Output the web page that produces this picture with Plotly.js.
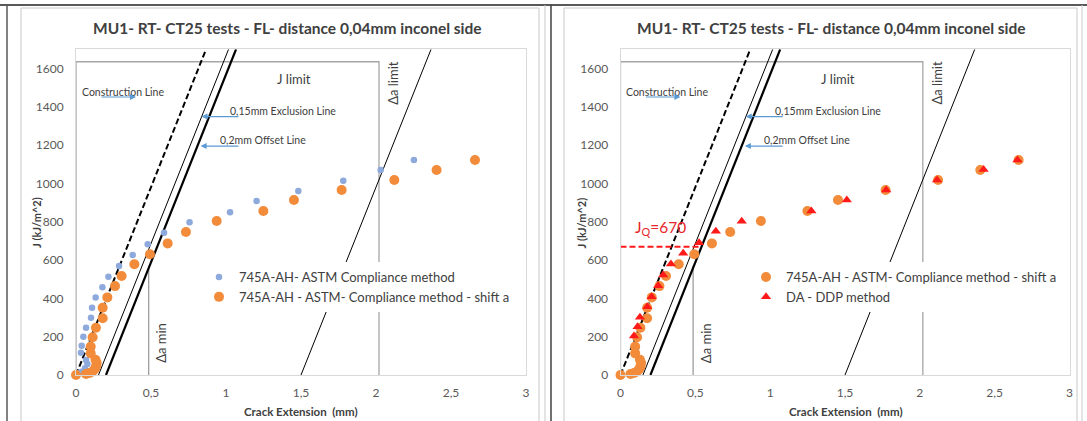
<!DOCTYPE html>
<html>
<head>
<meta charset="utf-8">
<script src="https://cdn.plot.ly/plotly-3.0.1.min.js"></script>
<style>html,body{margin:0;padding:0;background:#fff;}#chart{width:1087px;height:421px;}</style>
</head>
<body>
<div id="chart"></div>
<script>
// ---------- data ----------
const xTickVals = [0, 0.5, 1, 1.5, 2, 2.5, 3];
const xTickText = ['0', '0,5', '1', '1,5', '2', '2,5', '3'];
const yTickVals = [0, 200, 400, 600, 800, 1000, 1200, 1400, 1600];

// 745A-AH- ASTM Compliance method
const astmX = [0, 0.016, 0.038, 0.06, 0.076, 0.067, 0.033, 0.038, 0.049, 0.067, 0.1, 0.107, 0.131, 0.176, 0.216, 0.287, 0.378, 0.478, 0.587, 0.757, 1.027, 1.204, 1.482, 1.782, 2.031, 2.253];
const astmJ = [0, 9, 17, 35, 57, 78, 116, 153, 200, 247, 299, 351, 404, 458, 513, 569, 626, 682, 743, 797, 849, 908, 960, 1014, 1070, 1122];

// 745A-AH - ASTM- Compliance method - shift a
const shiftX = [0, 0.067, 0.09, 0.11, 0.125, 0.133, 0.138, 0.13, 0.098, 0.098, 0.111, 0.133, 0.178, 0.178, 0.209, 0.26, 0.304, 0.389, 0.493, 0.611, 0.733, 0.938, 1.249, 1.453, 1.771, 2.122, 2.404, 2.66];
const shiftJ = [0, 5, 10, 18, 30, 45, 62, 80, 113, 148, 197, 247, 296, 351, 405, 464, 517, 578, 630, 687, 746, 804, 856, 913, 966, 1018, 1070, 1122];

// DA - DDP method
const ddpX = [0.09, 0.114, 0.13, 0.179, 0.208, 0.252, 0.285, 0.337, 0.419, 0.525, 0.637, 0.81, 1.275, 1.512, 1.775, 2.115, 2.426, 2.652];
const ddpJ = [204, 252, 301, 356, 409, 466, 522, 579, 635, 690, 750, 802, 856, 913, 966, 1018, 1073, 1122];

// construction / exclusion / offset / limit lines
const constrX = [0, 0.867];     const constrJ = [0, 1700];
const exclX = [0.15, 1.017];    const exclJ = [0, 1700];
const offX = [0.2, 1.067];      const offJ = [0, 1700];
const daLimX = [1.5, 2.367];    const daLimJ = [0, 1700];
const jLimBoxX = [0, 0, 2.02, 2.02]; const jLimBoxJ = [0, 1635, 1635, 0];
const daMinX = [0.485, 0.485];  const daMinJ = [0, 570];
const jqX = [0, 0.53];          const jqJ = [670, 670];

const titleText = 'MU1- RT- CT25 tests - FL- distance 0,04mm inconel side';
const xTitle = 'Crack Extension  (mm)';
const yTitle = 'J (kJ/m^2)';
const nameAstm = '745A-AH- ASTM Compliance method';
const nameShift = '745A-AH - ASTM- Compliance method - shift a';
const nameDdp = 'DA - DDP method';

// ---------- styling ----------
const W = 1087, H = 421;
const px = v => v / W;
const py = v => 1 - v / H;
const FONT = 'Lato, "Open Sans", sans-serif';
const BLUE = '#8EA9DB', ORANGE = '#F28B3A', RED = '#FF1A1A', ARROW = '#5B9BD5';

function refLines(xa, ya) {
  const base = {xaxis: xa, yaxis: ya, mode: 'lines', showlegend: false, hoverinfo: 'skip', type: 'scatter'};
  return [
    Object.assign({}, base, {x: jLimBoxX, y: jLimBoxJ, line: {color: '#A6A6A6', width: 1.3}}),
    Object.assign({}, base, {x: daMinX, y: daMinJ, line: {color: '#808080', width: 1}}),
    Object.assign({}, base, {x: constrX, y: constrJ, line: {color: '#000', width: 2, dash: '6px,3px'}}),
    Object.assign({}, base, {x: exclX, y: exclJ, line: {color: '#000', width: 1}}),
    Object.assign({}, base, {x: offX, y: offJ, line: {color: '#000', width: 2.2}}),
    Object.assign({}, base, {x: daLimX, y: daLimJ, line: {color: '#000', width: 1}})
  ];
}

const traces = [];
traces.push(...refLines('x', 'y'));
traces.push({type: 'scatter', mode: 'markers', x: astmX, y: astmJ, xaxis: 'x', yaxis: 'y', name: nameAstm, legend: 'legend', cliponaxis: false,
  marker: {color: BLUE, size: 6.5, symbol: 'circle'}});
traces.push({type: 'scatter', mode: 'markers', x: shiftX, y: shiftJ, xaxis: 'x', yaxis: 'y', name: nameShift, legend: 'legend', cliponaxis: false,
  marker: {color: ORANGE, size: 10, symbol: 'circle'}});

traces.push(...refLines('x2', 'y2'));
traces.push({type: 'scatter', mode: 'lines', x: jqX, y: jqJ, xaxis: 'x2', yaxis: 'y2', showlegend: false, hoverinfo: 'skip',
  line: {color: RED, width: 2, dash: '6px,3px'}});
traces.push({type: 'scatter', mode: 'markers', x: shiftX, y: shiftJ, xaxis: 'x2', yaxis: 'y2', name: nameShift, legend: 'legend2', cliponaxis: false,
  marker: {color: ORANGE, size: 10, symbol: 'circle'}});
traces.push({type: 'scatter', mode: 'markers', x: ddpX, y: ddpJ, xaxis: 'x2', yaxis: 'y2', name: nameDdp, legend: 'legend2', cliponaxis: false,
  marker: {color: RED, size: 9, symbol: 'triangle-up'}});

function xAxis(domain, anchor) {
  return {domain: domain, anchor: anchor, range: [0, 3], tickvals: xTickVals, ticktext: xTickText,
    showline: true, mirror: true, linecolor: '#D9D9D9', linewidth: 1, showgrid: false, zeroline: false,
    ticks: 'outside', ticklen: 7, tickcolor: 'rgba(0,0,0,0)', tickfont: {family: FONT, size: 12, color: '#595959'}};
}
function yAxis(domain, anchor) {
  return {domain: domain, anchor: anchor, range: [0, 1700], tickvals: yTickVals,
    showline: true, mirror: true, linecolor: '#D9D9D9', linewidth: 1, showgrid: false, zeroline: false,
    ticks: 'outside', ticklen: 9, tickcolor: 'rgba(0,0,0,0)', tickfont: {family: FONT, size: 12, color: '#595959'}};
}

const yDom = [py(375), py(49.3)];
const layout = {
  width: W, height: H, margin: {l: 0, r: 0, t: 0, b: 0}, paper_bgcolor: '#fff', plot_bgcolor: '#fff',
  xaxis: xAxis([px(76), px(526)], 'y'), yaxis: yAxis(yDom, 'x'),
  xaxis2: xAxis([px(620.5), px(1069.5)], 'y2'), yaxis2: yAxis(yDom, 'x2'),
  showlegend: true,
  legend: {x: px(199), y: py(262), xanchor: 'left', yanchor: 'top', bgcolor: '#fff', borderwidth: 0,
    font: {family: FONT, size: 13, color: '#404040'}, tracegroupgap: 0, itemwidth: 30},
  legend2: {x: px(746), y: py(262), xanchor: 'left', yanchor: 'top', bgcolor: '#fff', borderwidth: 0,
    font: {family: FONT, size: 13, color: '#404040'}, tracegroupgap: 0, itemwidth: 30},
  shapes: [],
  annotations: []
};

// frames (page borders of the screenshot)
const frameLine = (x0, y0, x1, y1, c, w) => ({type: 'line', xref: 'paper', yref: 'paper', x0: px(x0), y0: py(y0), x1: px(x1), y1: py(y1), line: {color: c, width: w}});
layout.shapes.push(frameLine(0, 5, W, 5, '#595959', 2));
layout.shapes.push(frameLine(7, 5, 7, H, '#595959', 1.5));
layout.shapes.push({type: 'rect', xref: 'paper', yref: 'paper', x0: px(21), y0: py(H + 2), x1: px(539), y1: py(8), line: {color: '#C8C8C8', width: 1}});
layout.shapes.push(frameLine(545, 5, 545, H, '#C8C8C8', 1));
layout.shapes.push(frameLine(551, 5, 551, H, '#404040', 1.5));
layout.shapes.push({type: 'rect', xref: 'paper', yref: 'paper', x0: px(564), y0: py(H + 2), x1: px(1077), y1: py(8), line: {color: '#C8C8C8', width: 1}});
layout.shapes.push(frameLine(1082, 5, 1082, H, '#C8C8C8', 1));

function panelAnnotations(xr, yr, xoff) {
  const A = [];
  const txt = (x, y, text, opts) => Object.assign({xref: xr, yref: yr, x: x, y: y, text: text, showarrow: false,
    font: {family: FONT, size: 10.5, color: '#404040'}}, opts || {});
  const arr = (hx, tx, y) => ({xref: xr, yref: yr, axref: xr, ayref: yr, x: hx, y: y, ax: tx, ay: y, text: '',
    showarrow: true, arrowhead: 2, arrowsize: 1, arrowwidth: 1.2, arrowcolor: ARROW});
  A.push(txt(0.025, 1477, 'Construction Line', {xanchor: 'left'}));
  A.push(arr(0.40, 0.16, 1451));
  A.push(txt(1.45, 1547, 'J limit', {font: {family: FONT, size: 13, color: '#404040'}}));
  A.push(txt(1.016, 1378, '0,15mm Exclusion Line', {xanchor: 'left'}));
  A.push(arr(0.837, 1.093, 1349));
  A.push(txt(0.947, 1228, '0,2mm Offset Line', {xanchor: 'left'}));
  A.push(arr(0.831, 1.093, 1195));
  A.push(txt(2.112, 1524, 'Δa limit', {textangle: -90, font: {family: FONT, size: 13, color: '#404040'}}));
  A.push(txt(0.571, 166, 'Δa min', {textangle: -90, font: {family: FONT, size: 13, color: '#404040'}}));
  // titles
  A.push({xref: 'paper', yref: 'paper', x: px(xoff + 287), y: py(28), xanchor: 'center', yanchor: 'middle',
    text: '<b>' + titleText + '</b>', showarrow: false, font: {family: FONT, size: 15.5, color: '#404040'}});
  A.push({xref: 'paper', yref: 'paper', x: px(xoff + 301), y: py(411), xanchor: 'center', yanchor: 'middle',
    text: '<b>' + xTitle + '</b>', showarrow: false, font: {family: FONT, size: 11.5, color: '#404040'}});
  A.push({xref: 'paper', yref: 'paper', x: px(xoff + 36), y: py(223), xanchor: 'center', yanchor: 'middle',
    text: '<b>' + yTitle + '</b>', showarrow: false, textangle: -90, font: {family: FONT, size: 11, color: '#404040'}});
  return A;
}
layout.annotations.push(...panelAnnotations('x', 'y', 0));
layout.annotations.push(...panelAnnotations('x2', 'y2', 544.5));
layout.annotations.push({xref: 'x2', yref: 'y2', x: 0.083, y: 767, xanchor: 'left', text: 'J<sub>Q</sub>=670', showarrow: false,
  font: {family: FONT, size: 15.5, color: '#E8262B'}});

Plotly.newPlot('chart', traces, layout, {staticPlot: true, displayModeBar: false});
</script>
</body>
</html>
